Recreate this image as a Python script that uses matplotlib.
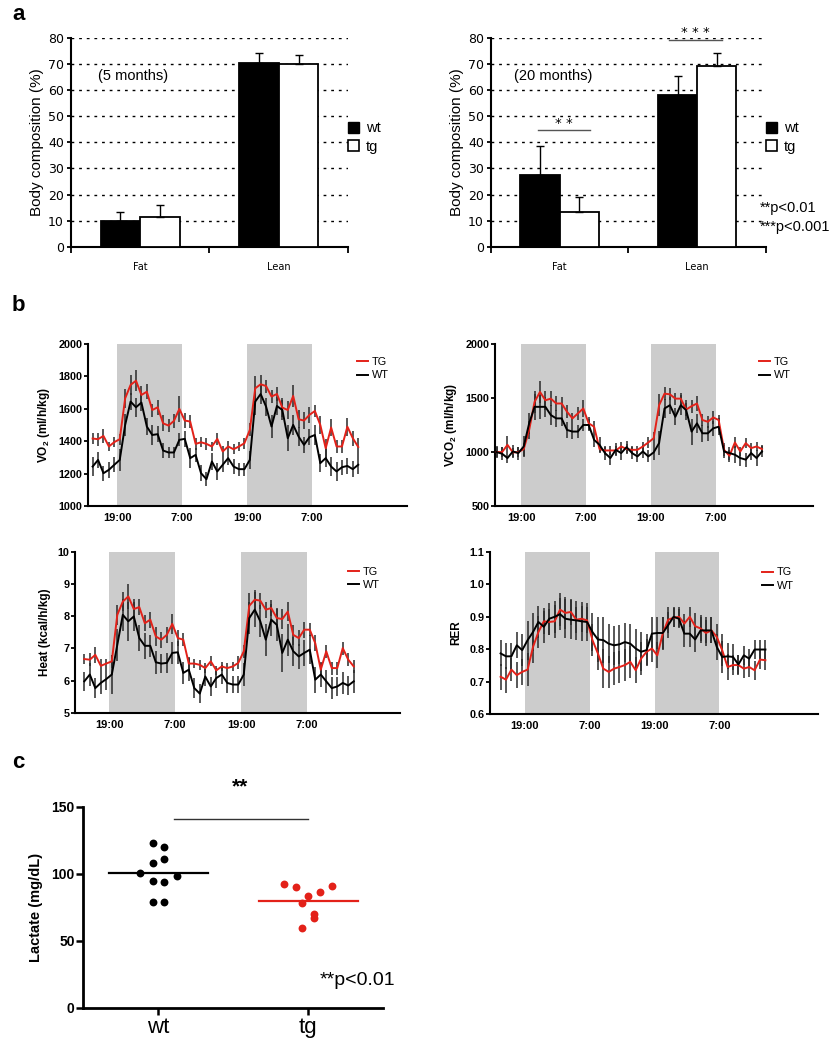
import numpy as np
import matplotlib
matplotlib.use("Agg")
import matplotlib.pyplot as plt
from matplotlib.patches import Patch
from matplotlib.lines import Line2D

plt.rcParams["mathtext.fontset"] = "custom"
plt.rcParams["mathtext.bf"] = "Liberation Sans:bold"
plt.rcParams["mathtext.rm"] = "Liberation Sans:bold"

RED = "#e32119"
ARIAL = "Liberation Sans"

# ---- panel a: body composition ----
groups = ["Fat", "Lean"]
wt_5m = [10.0, 70.5]
wt_5m_err = [3.5, 3.5]
tg_5m = [11.5, 70.0]
tg_5m_err = [4.5, 3.2]
wt_20m = [27.5, 58.0]
wt_20m_err = [11.0, 7.5]
tg_20m = [13.5, 69.0]
tg_20m_err = [5.5, 5.0]

# ---- panel b: indirect calorimetry, hourly ----
time_ticks = ["19:00", "7:00", "19:00", "7:00"]
vo2_tg = [1417, 1413, 1433, 1368, 1395, 1413, 1665, 1748, 1774, 1686, 1706, 1593, 1610, 1511, 1497,
          1526, 1600, 1528, 1522, 1384, 1394, 1384, 1368, 1415, 1337, 1368, 1351, 1368, 1388, 1470,
          1727, 1752, 1741, 1676, 1692, 1608, 1593, 1680, 1536, 1528, 1563, 1587, 1501, 1357, 1485,
          1368, 1368, 1490, 1419, 1365]
vo2_tg_err = [35, 40, 45, 30, 30, 35, 60, 60, 65, 55, 45, 40, 45, 50, 40, 45, 80, 45, 40, 35, 30, 35, 30, 35, 35,
              35, 30, 30, 35, 40, 75, 55, 40, 40, 45, 60, 55, 70, 55, 50, 50, 40, 55, 60, 55, 40, 40, 55, 45, 55]
vo2_wt = [1244, 1285, 1203, 1224, 1255, 1285, 1501, 1645, 1610, 1639, 1491, 1439, 1444, 1343, 1331,
          1331, 1409, 1415, 1296, 1316, 1203, 1166, 1275, 1214, 1255, 1296, 1244, 1228, 1228, 1285,
          1645, 1692, 1614, 1491, 1618, 1593, 1419, 1501, 1429, 1378, 1425, 1439, 1265, 1296, 1244,
          1214, 1240, 1248, 1228, 1255]
vo2_wt_err = [60, 50, 45, 50, 45, 70, 70, 50, 60, 50, 55, 60, 50, 45, 35, 35, 40, 50, 60, 45, 50, 45, 55, 50, 45,
              40, 45, 40, 40, 55, 80, 60, 55, 70, 55, 60, 80, 60, 60, 50, 50, 60, 55, 55, 60, 60, 45, 50, 50, 55]

vco2_tg = [1000, 1000, 1067, 997, 1000, 1028, 1205, 1465, 1557, 1480, 1495, 1450, 1450, 1373, 1312,
           1358, 1404, 1266, 1235, 1028, 1015, 1015, 1015, 1052, 1028, 1021, 1021, 1052, 1089, 1128,
           1434, 1541, 1535, 1495, 1495, 1394, 1425, 1450, 1297, 1281, 1321, 1297, 1021, 966, 1089,
           1006, 1083, 1037, 1052, 1028]
vco2_tg_err = [50, 45, 80, 40, 45, 60, 80, 100, 100, 90, 70, 65, 60, 60, 50, 60, 75, 60, 50, 40, 40, 45, 40, 45, 45,
               40, 40, 45, 55, 60, 100, 60, 55, 55, 55, 60, 60, 65, 60, 55, 60, 50, 60, 55, 50, 40, 45, 45, 40, 40]
vco2_wt = [1000, 985, 945, 1006, 991, 1052, 1266, 1419, 1419, 1419, 1343, 1312, 1312, 1205, 1190,
           1190, 1251, 1251, 1113, 1067, 991, 945, 1021, 991, 1046, 991, 960, 1006, 960, 997,
           1083, 1404, 1434, 1327, 1434, 1388, 1190, 1266, 1174, 1174, 1220, 1235, 1006, 991, 976,
           945, 930, 991, 945, 1006]
vco2_wt_err = [55, 60, 50, 60, 60, 100, 100, 120, 110, 90, 90, 80, 75, 75, 70, 60, 60, 60, 70, 70, 60, 60, 60, 60, 55,
               55, 55, 60, 55, 70, 110, 90, 80, 80, 90, 90, 120, 90, 80, 70, 70, 80, 60, 60, 80, 70, 65, 60, 70, 55]

heat_tg = [6.67, 6.65, 6.80, 6.46, 6.53, 6.60, 8.04, 8.45, 8.61, 8.22, 8.28, 7.78, 7.89, 7.37, 7.27,
           7.42, 7.76, 7.32, 7.27, 6.53, 6.53, 6.49, 6.39, 6.60, 6.32, 6.44, 6.39, 6.44, 6.55, 6.91,
           8.32, 8.51, 8.48, 8.20, 8.25, 7.94, 7.91, 8.14, 7.42, 7.32, 7.58, 7.58, 7.16, 6.34, 6.91,
           6.39, 6.39, 7.01, 6.65, 6.44]
heat_tg_err = [0.15, 0.2, 0.25, 0.2, 0.15, 0.2, 0.3, 0.3, 0.4, 0.3, 0.25, 0.25, 0.25, 0.3, 0.25, 0.25, 0.3,
               0.25, 0.2, 0.2, 0.15, 0.15, 0.15, 0.15, 0.15, 0.15, 0.15, 0.15, 0.2, 0.2, 0.4, 0.3, 0.25,
               0.25, 0.25, 0.3, 0.3, 0.3, 0.3, 0.25, 0.25, 0.2, 0.25, 0.2, 0.2, 0.2, 0.2, 0.2, 0.2, 0.2]
heat_wt = [5.98, 6.19, 5.77, 5.93, 6.05, 6.19, 7.11, 8.04, 7.84, 7.99, 7.32, 7.08, 7.08, 6.57, 6.53,
           6.55, 6.86, 6.88, 6.24, 6.34, 5.77, 5.60, 6.13, 5.82, 6.08, 6.19, 5.93, 5.88, 5.88, 6.19,
           7.94, 8.20, 7.84, 7.27, 7.89, 7.73, 6.86, 7.27, 6.91, 6.75, 6.86, 6.96, 6.03, 6.19, 5.98,
           5.77, 5.82, 5.93, 5.85, 5.98]
heat_wt_err = [0.3, 0.35, 0.3, 0.35, 0.35, 0.6, 0.5, 0.5, 0.6, 0.45, 0.4, 0.4, 0.35, 0.35, 0.3, 0.3, 0.35,
               0.35, 0.35, 0.35, 0.3, 0.3, 0.3, 0.3, 0.3, 0.3, 0.3, 0.25, 0.25, 0.35, 0.5, 0.55, 0.5,
               0.5, 0.5, 0.5, 0.6, 0.5, 0.45, 0.4, 0.4, 0.45, 0.4, 0.4, 0.35, 0.35, 0.3, 0.35, 0.3, 0.35]

rer_tg = [0.715, 0.706, 0.737, 0.720, 0.730, 0.737, 0.807, 0.853, 0.886, 0.884, 0.886, 0.922, 0.912,
          0.915, 0.891, 0.894, 0.889, 0.828, 0.787, 0.740, 0.730, 0.740, 0.745, 0.751, 0.761, 0.735,
          0.771, 0.792, 0.802, 0.781, 0.848, 0.891, 0.897, 0.900, 0.879, 0.900, 0.871, 0.864, 0.850,
          0.858, 0.838, 0.797, 0.745, 0.751, 0.751, 0.740, 0.745, 0.735, 0.768, 0.766]
rer_tg_err = [0.04, 0.04, 0.035, 0.04, 0.04, 0.05, 0.05, 0.05, 0.04, 0.04, 0.05, 0.05, 0.05, 0.04, 0.04,
              0.04, 0.04, 0.05, 0.05, 0.06, 0.05, 0.05, 0.05, 0.05, 0.05, 0.04, 0.05, 0.04, 0.04, 0.04,
              0.05, 0.04, 0.03, 0.03, 0.03, 0.03, 0.04, 0.04, 0.04, 0.04, 0.04, 0.05, 0.04, 0.03, 0.03,
              0.03, 0.03, 0.03, 0.03, 0.03]
rer_wt = [0.787, 0.778, 0.778, 0.812, 0.797, 0.828, 0.853, 0.884, 0.869, 0.894, 0.900, 0.908, 0.894,
          0.891, 0.889, 0.886, 0.884, 0.853, 0.830, 0.828, 0.817, 0.812, 0.815, 0.822, 0.817, 0.802,
          0.792, 0.797, 0.848, 0.850, 0.850, 0.874, 0.900, 0.894, 0.848, 0.848, 0.830, 0.858, 0.858,
          0.858, 0.807, 0.776, 0.778, 0.776, 0.753, 0.781, 0.771, 0.799, 0.799, 0.799]
rer_wt_err = [0.04, 0.04, 0.04, 0.04, 0.05, 0.06, 0.06, 0.05, 0.05, 0.05, 0.05, 0.05, 0.06, 0.06, 0.06,
              0.06, 0.06, 0.06, 0.07, 0.07, 0.06, 0.06, 0.06, 0.06, 0.06, 0.06, 0.06, 0.05, 0.05, 0.05,
              0.05, 0.04, 0.03, 0.03, 0.04, 0.04, 0.04, 0.04, 0.04, 0.04, 0.04, 0.05, 0.04, 0.04, 0.03,
              0.03, 0.03, 0.03, 0.03, 0.03]

# ---- panel c: lactate ----
lactate_groups = ["wt", "tg"]
lactate_wt = [122.6, 119.7, 108.2, 111.2, 100.2, 98.3, 94.8, 93.5, 79.1, 79.1]
lactate_tg = [92.3, 89.8, 83.6, 86.1, 91.0, 78.4, 69.9, 66.7, 59.2]
wt_jitter = [-0.035, 0.042, -0.035, 0.042, -0.117, 0.126, -0.035, 0.042, -0.035, 0.042]
tg_jitter = [-0.163, -0.082, 0.0, 0.08, 0.157, -0.042, 0.04, 0.04, -0.042]


fig = plt.figure(figsize=(8.32, 10.5), dpi=100)


def bar_panel(rect, wt, wt_err, tg, tg_err, label):
    ax = fig.add_axes(rect)
    x = np.arange(len(groups))
    w = 0.285
    ax.bar(x - w / 2, wt, w, color="black", edgecolor="black", lw=1.3, zorder=3)
    ax.bar(x + w / 2, tg, w, color="white", edgecolor="black", lw=1.3, zorder=3)
    ax.errorbar(x - w / 2, wt, yerr=[np.zeros(len(wt)), wt_err], fmt="none", ecolor="black",
                elinewidth=1, capsize=3, capthick=1, zorder=4)
    ax.errorbar(x + w / 2, tg, yerr=[np.zeros(len(tg)), tg_err], fmt="none", ecolor="black",
                elinewidth=1, capsize=3, capthick=1, zorder=4)
    ax.set_xlim(-0.5, 1.5)
    ax.set_ylim(0, 80)
    ax.set_yticks(range(0, 81, 10))
    ax.yaxis.grid(True, ls=(0, (2, 3.5)), color="black", lw=1)
    ax.set_axisbelow(True)
    ax.set_xticks([-0.5, 0.5, 1.5])
    ax.set_xticklabels([])
    ax.set_xticks([0, 1], minor=True)
    ax.set_xticklabels(groups, minor=True)
    ax.tick_params(axis="x", which="minor", length=0, pad=11, labelsize=7)
    ax.tick_params(axis="x", which="major", length=4, width=1.3)
    ax.tick_params(axis="y", length=3, width=1.3, labelsize=9, pad=2)
    for s in ["top", "right"]:
        ax.spines[s].set_visible(False)
    for s in ["left", "bottom"]:
        ax.spines[s].set_linewidth(1.5)
    ax.set_ylabel("Body composition (%)", family=ARIAL, fontsize=11, labelpad=3)
    ax.text(-0.05, 65.5, label, family=ARIAL, fontsize=10.5, ha="center", va="center")
    handles = [Patch(facecolor="black", edgecolor="black"),
               Patch(facecolor="white", edgecolor="black", lw=1.2)]
    ax.legend(handles, ["wt", "tg"], loc="upper left", bbox_to_anchor=(1.0, 0.6),
              frameon=False, prop={"family": ARIAL, "size": 10.5}, handlelength=0.75,
              handleheight=0.75, handletextpad=0.5, labelspacing=0.3, borderpad=0,
              borderaxespad=0)
    return ax


bar_panel([0.0853, 0.7648, 0.333, 0.1993], wt_5m, wt_5m_err, tg_5m, tg_5m_err, "(5 months)")
ax_a2 = bar_panel([0.590, 0.7648, 0.3305, 0.1993], wt_20m, wt_20m_err, tg_20m, tg_20m_err,
                  "(20 months)")
ax_a2.plot([-0.16, 0.22], [44.6, 44.6], color="#555555", lw=1, clip_on=False, zorder=5)
ax_a2.text(0.03, 47.3, "* *", ha="center", va="center", fontsize=9.5)
ax_a2.plot([0.795, 1.18], [79.2, 79.2], color="#555555", lw=1, clip_on=False, zorder=5)
ax_a2.text(0.99, 82.0, "* * *", ha="center", va="center", fontsize=9.5)
fig.text(760 / 832, 1 - 208 / 1050, "**p<0.01", family=ARIAL, fontsize=10.5, va="center")
fig.text(760 / 832, 1 - 227 / 1050, "***p<0.001", family=ARIAL, fontsize=10.5, va="center")


def time_panel(rect, tg, tg_err, wt, wt_err, ylim, yticks, yticklabels, ylabel, xlim, leg_xy):
    ax = fig.add_axes(rect)
    hours = np.arange(len(tg))
    for a, b in [(4.5, 16.5), (28.5, 40.5)]:
        ax.axvspan(a, b, color="#cccccc", lw=0, zorder=0)
    ax.errorbar(hours, wt, yerr=wt_err, fmt="none", ecolor="#2a2a2a", elinewidth=1.1, zorder=2)
    ax.errorbar(hours, tg, yerr=tg_err, fmt="none", ecolor="#2a2a2a", elinewidth=1.1, zorder=2)
    ax.plot(hours, tg, color=RED, lw=1.4, zorder=3)
    ax.plot(hours, wt, color="black", lw=1.4, zorder=4)
    ax.set_xlim(*xlim)
    ax.set_ylim(*ylim)
    ax.set_yticks(yticks)
    ax.set_yticklabels(yticklabels, family=ARIAL, fontweight="bold", fontsize=7.8)
    ax.set_xticks([4.5, 16.5, 28.5, 40.5])
    ax.set_xticklabels(time_ticks, family=ARIAL, fontweight="bold", fontsize=8)
    ax.tick_params(axis="x", length=0, pad=5)
    ax.tick_params(axis="y", length=3, width=1.3, pad=1)
    for s in ["top", "right"]:
        ax.spines[s].set_visible(False)
    for s in ["left", "bottom"]:
        ax.spines[s].set_linewidth(1.5)
    ax.set_ylabel(ylabel, family=ARIAL, fontweight="bold", fontsize=8.5, labelpad=5)
    handles = [Line2D([], [], color=RED, lw=1.4), Line2D([], [], color="black", lw=1.4)]
    ax.legend(handles, ["TG", "WT"], loc="upper left", bbox_to_anchor=leg_xy, frameon=False,
              prop={"family": ARIAL, "size": 7.8}, handlelength=1.0, handletextpad=0.35,
              labelspacing=0.3, borderpad=0, borderaxespad=0)
    return ax


time_panel([0.1058, 0.518, 0.3834, 0.1543], vo2_tg, vo2_tg_err, vo2_wt, vo2_wt_err,
           (1000, 2000), [1000, 1200, 1400, 1600, 1800, 2000],
           ["1000", "1200", "1400", "1600", "1800", "2000"],
           r"VO$_\mathbf{2}$ (ml/h/kg)", (-0.85, 58.0), (0.843, 0.92))
time_panel([0.595, 0.518, 0.382, 0.1543], vco2_tg, vco2_tg_err, vco2_wt, vco2_wt_err,
           (500, 2000), [500, 1000, 1500, 2000], ["500", "1000", "1500", "2000"],
           r"VCO$_\mathbf{2}$ (ml/h/kg)", (-0.3, 58.4), (0.83, 0.92))
time_panel([0.0901, 0.321, 0.3906, 0.1537], heat_tg, heat_tg_err, heat_wt, heat_wt_err,
           (5, 10), [5, 6, 7, 8, 9, 10], ["5", "6", "7", "8", "9", "10"],
           "Heat (kcal/h/kg)", (-1.7, 57.4), (0.84, 0.905))
time_panel([0.589, 0.320, 0.394, 0.1543], rer_tg, rer_tg_err, rer_wt, rer_wt_err,
           (0.6, 1.1), [0.6, 0.7, 0.8, 0.9, 1.0, 1.1], ["0.6", "0.7", "0.8", "0.9", "1.0", "1.1"],
           "RER", (-1.95, 58.7), (0.83, 0.905))

# panel c
axc = fig.add_axes([0.0998, 0.0403, 0.3606, 0.1914])
axc.scatter(np.array(wt_jitter), lactate_wt, s=32, color="black", lw=0, zorder=3)
axc.scatter(1 + np.array(tg_jitter), lactate_tg, s=32, color=RED, lw=0, zorder=3)
axc.plot([-0.33, 0.33], [np.mean(lactate_wt)] * 2, color="black", lw=1.6)
axc.plot([0.67, 1.33], [np.mean(lactate_tg)] * 2, color=RED, lw=1.6)
axc.set_xlim(-0.5, 1.5)
axc.set_ylim(0, 150)
axc.set_yticks([0, 50, 100, 150])
axc.set_yticklabels(["0", "50", "100", "150"], family=ARIAL, fontweight="bold", fontsize=10)
axc.set_xticks([0, 1])
axc.set_xticklabels(lactate_groups, family=ARIAL, fontsize=16)
axc.tick_params(axis="x", length=5, width=1.8, pad=2)
axc.tick_params(axis="y", length=5, width=1.8, pad=1)
for s in ["top", "right"]:
    axc.spines[s].set_visible(False)
for s in ["left", "bottom"]:
    axc.spines[s].set_linewidth(2)
axc.set_ylabel("Lactate (mg/dL)", family=ARIAL, fontweight="bold", fontsize=10.5, labelpad=6)
axc.plot([0.104, 1.0], [141, 141], color="#333333", lw=1, clip_on=False)
axc.text(0.545, 165, "**", family=ARIAL, fontweight="bold", fontsize=15, ha="center", va="center")
axc.text(1.58, 20.6, "**p<0.01", family=ARIAL, fontsize=14, ha="right", va="center")

for lab, x, y in [("a", 12, 14), ("b", 12, 306), ("c", 12, 763)]:
    fig.text(x / 832, 1 - y / 1050, lab, family=ARIAL, fontweight="bold", fontsize=16, va="center")

fig.savefig("out.png", dpi=100)
